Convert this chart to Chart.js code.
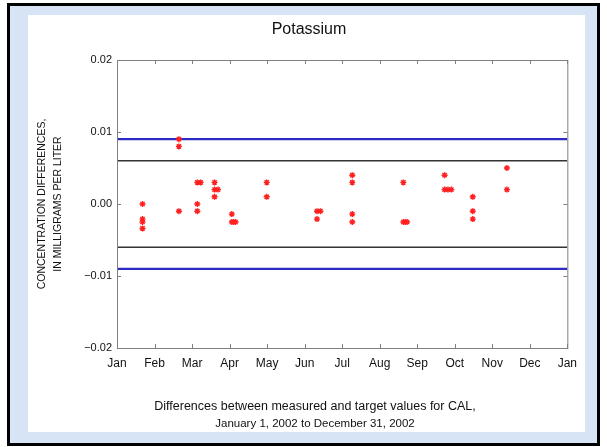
<!DOCTYPE html>
<html>
<head>
<meta charset="utf-8">
<script src="https://cdn.jsdelivr.net/npm/chart.js@4/dist/chart.umd.min.js"></script>
<style>
  html, body { margin: 0; padding: 0; background: #fff; }
  #frame {
    position: absolute; left: 7px; top: 3px;
    width: 587px; height: 437px;
    border: 3px solid #000;
    background: #d6e4f6;
  }
  #panel {
    position: absolute; left: 18px; top: 9px;
    width: 557px; height: 417px;
    background: #fff;
  }
</style>
</head>
<body>
<div id="frame">
  <div id="panel"><canvas id="chart" width="557" height="417"></canvas></div>
</div>
<script>
// months since Jan 1 (0 = Jan, 12 = next Jan) and the measured differences
const sampleMonth = [
  0.68, 0.68, 0.68, 0.68,
  1.65, 1.65, 1.65,
  2.14, 2.23, 2.14, 2.14,
  2.60, 2.60, 2.69, 2.60,
  3.06, 3.06, 3.11, 3.16,
  3.99, 3.99,
  5.33, 5.42, 5.33,
  6.27, 6.27, 6.27, 6.27,
  7.63, 7.63, 7.68, 7.73,
  8.73, 8.73, 8.82, 8.91,
  9.48, 9.48, 9.48,
  10.39, 10.39
];
const sampleDiff = [
  0.000, -0.0021, -0.0025, -0.0034,
  0.009, 0.008, -0.001,
  0.003, 0.003, 0.000, -0.001,
  0.003, 0.002, 0.002, 0.001,
  -0.0014, -0.0025, -0.0025, -0.0025,
  0.003, 0.001,
  -0.001, -0.001, -0.0021,
  0.004, 0.003, -0.0014, -0.0025,
  0.003, -0.0025, -0.0025, -0.0025,
  0.004, 0.002, 0.002, 0.002,
  0.001, -0.001, -0.0021,
  0.005, 0.002
];
const monthLabels = ["Jan", "Feb", "Mar", "Apr", "May", "Jun", "Jul", "Aug", "Sep", "Oct", "Nov", "Dec", "Jan"];
const outerLimit = 0.009;
const innerLimit = 0.006;
const yTitle = ["CONCENTRATION DIFFERENCES,", "IN MILLIGRAMS PER LITER"];
const chartTitle = "Potassium";
const caption = ["Differences between measured and target values for CAL,", "January 1, 2002 to December 31, 2002"];

const FONT = "'Liberation Sans', Arial, Helvetica, sans-serif";

const points = sampleMonth.map((m, i) => ({ x: m, y: sampleDiff[i] }));
const hline = (v) => [{ x: 0, y: v }, { x: 12, y: v }];

// box, inward ticks and the texts around the plot
const framePlugin = {
  id: "frame",
  afterDatasetsDraw(chart) {
    const { ctx, chartArea: a, scales } = chart;
    ctx.save();
    ctx.strokeStyle = "#808080";
    ctx.lineWidth = 1;
    ctx.strokeRect(a.left + 0.5, a.top + 0.5, a.right - a.left, a.bottom - a.top);
    ctx.beginPath();
    scales.x.ticks.forEach((t) => {
      const px = Math.round(scales.x.getPixelForValue(t.value)) + 0.5;
      ctx.moveTo(px, a.bottom); ctx.lineTo(px, a.bottom - 4);
      ctx.moveTo(px, a.top); ctx.lineTo(px, a.top + 4);
    });
    scales.y.ticks.forEach((t) => {
      const py = Math.round(scales.y.getPixelForValue(t.value)) + 0.5;
      ctx.moveTo(a.left, py); ctx.lineTo(a.left + 4, py);
      ctx.moveTo(a.right, py); ctx.lineTo(a.right - 4, py);
    });
    ctx.stroke();

    ctx.fillStyle = "#111";
    ctx.textAlign = "center";
    ctx.textBaseline = "middle";
    ctx.font = "16px " + FONT;
    ctx.fillText(chartTitle, 281, 15);

    ctx.font = "12.5px " + FONT;
    ctx.fillText(caption[0], 287, 392);
    ctx.font = "11.5px " + FONT;
    ctx.fillText(caption[1], 287, 409);

    ctx.font = "10.5px " + FONT;
    const cy = (a.top + a.bottom) / 2;
    [14, 30].forEach((x, i) => {
      ctx.save();
      ctx.translate(x, cy);
      ctx.rotate(-Math.PI / 2);
      ctx.fillText(yTitle[i], 0, 0);
      ctx.restore();
    });
    ctx.restore();
  }
};

new Chart(document.getElementById("chart"), {
  type: "scatter",
  data: {
    datasets: [
      {
        data: points,
        order: 0,
        pointStyle: "star",
        pointRadius: 3,
        borderColor: "#ff2020",
        backgroundColor: "#ff2020",
        borderWidth: 1.4
      },
      { data: hline(outerLimit), showLine: true, pointRadius: 0, borderColor: "#2c2cc4", borderWidth: 2.2, order: 1 },
      { data: hline(-outerLimit), showLine: true, pointRadius: 0, borderColor: "#2c2cc4", borderWidth: 2.2, order: 1 },
      { data: hline(innerLimit), showLine: true, pointRadius: 0, borderColor: "#333", borderWidth: 1.6, order: 1 },
      { data: hline(-innerLimit), showLine: true, pointRadius: 0, borderColor: "#333", borderWidth: 1.6, order: 1 }
    ]
  },
  options: {
    responsive: false,
    animation: false,
    layout: { padding: { top: 45, right: 16, bottom: 54, left: 29 } },
    plugins: { legend: { display: false }, tooltip: { enabled: false } },
    scales: {
      x: {
        type: "linear",
        min: 0,
        max: 12,
        afterFit(scale) { scale.height = 30; },
        grid: { display: false, drawTicks: false },
        border: { display: false },
        ticks: {
          stepSize: 1,
          padding: 8,
          color: "#111",
          font: { family: FONT, size: 12 },
          callback: (v) => monthLabels[v]
        }
      },
      y: {
        min: -0.02,
        max: 0.02,
        afterFit(scale) { scale.width = 60; },
        grid: { display: false, drawTicks: false },
        border: { display: false },
        ticks: {
          stepSize: 0.01,
          padding: 5,
          color: "#111",
          font: { family: FONT, size: 11 },
          callback: (v) => (v < 0 ? "\u2212" : "") + Math.abs(v).toFixed(2)
        }
      }
    }
  },
  plugins: [framePlugin]
});
</script>
</body>
</html>
